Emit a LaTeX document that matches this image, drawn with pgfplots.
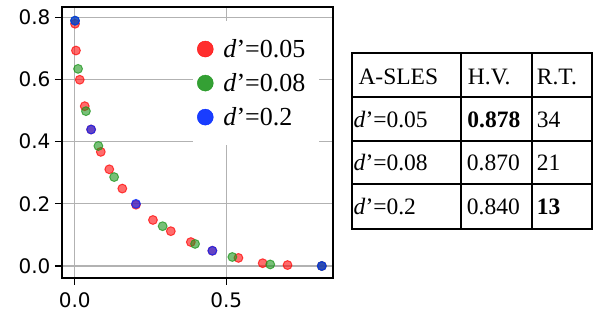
\documentclass[border=0pt]{standalone}
\usepackage{pgfplots}
\pgfplotsset{compat=1.18}
\usepackage{fontspec}
\setmainfont{Liberation Serif}
\newfontfamily\dejavu{DejaVu Sans}
\definecolor{cred}{RGB}{255,10,10}
\definecolor{cgreen}{RGB}{30,150,30}
\definecolor{cblue}{RGB}{0,40,255}
\pgfplotstableread{
x y
0.001 0.779
0.004 0.693
0.0165 0.599
0.033 0.514
0.054 0.439
0.086 0.367
0.114 0.311
0.157 0.249
0.202 0.197
0.258 0.148
0.317 0.112
0.383 0.077
0.454 0.049
0.540 0.026
0.620 0.009
0.702 0.003
0.815 0.000
}\tabA
\pgfplotstableread{
x y
0.001 0.789
0.011 0.634
0.037 0.498
0.078 0.386
0.130 0.286
0.290 0.128
0.397 0.071
0.520 0.029
0.645 0.005
0.815 0.000
}\tabB
\pgfplotstableread{
x y
0.001 0.789
0.054 0.439
0.202 0.200
0.454 0.049
0.815 0.000
}\tabC
\begin{document}
\begin{tikzpicture}[x=1pt,y=1pt]
\path[use as bounding box] (0,0) rectangle (593,320);
\begin{axis}[
  at={(62pt,42pt)}, anchor=south west,
  scale only axis, width=271pt, height=271pt,
  xmin=-0.042, xmax=0.852, ymin=-0.0386, ymax=0.833,
  xtick={0,0.5}, ytick={0,0.2,0.4,0.6,0.8},
  xticklabels={0.0,0.5}, yticklabels={0.0,0.2,0.4,0.6,0.8},
  tick pos=left, tick align=outside, major tick length=7pt,
  every tick/.style={black, line width=1.3pt},
  grid=major, major grid style={color=black!30, line width=1.3pt},
  axis line style={line width=1.6pt},
  tick label style={font=\dejavu\fontsize{20}{24}\selectfont},
  xticklabel style={yshift=-4pt},
  yticklabel style={xshift=-1pt},
  legend style={at={(0.483,0.948)}, anchor=north west, draw=none, fill=white,
    font=\fontsize{26}{31}\selectfont, row sep=10.5pt, inner xsep=4pt, inner ysep=16pt,
    nodes={inner xsep=10pt}},
  legend cell align=left,
  every axis plot/.append style={only marks, mark=*, mark size=4.4pt,
    mark options={fill opacity=0.6, draw opacity=0.75, line width=1pt}},
]
\addplot[cred, legend image code/.code={\fill[cred, fill opacity=0.85] (12pt,0) circle (8pt);}] table[x=x,y=y] {\tabA};
\addlegendentry{\textit{d}’=0.05}
\addplot[cgreen, legend image code/.code={\fill[cgreen, fill opacity=0.9] (12pt,0) circle (8pt);}] table[x=x,y=y] {\tabB};
\addlegendentry{\textit{d}’=0.08}
\addplot[cblue, legend image code/.code={\fill[cblue, fill opacity=0.9] (12pt,0) circle (8pt);}] table[x=x,y=y] {\tabC};
\addlegendentry{\textit{d}’=0.2}
\end{axis}
% table
\begin{scope}[line width=1.8pt]
\draw (351.7,266.7) rectangle (592,91);
\draw (351.7,222.7) -- (592,222.7);
\draw (351.7,179) -- (592,179);
\draw (351.7,135.7) -- (592,135.7);
\draw (461,266.7) -- (461,91);
\draw (531.7,266.7) -- (531.7,91);
\end{scope}
\begin{scope}[every node/.style={anchor=base west, inner sep=0pt, font=\fontsize{23.5}{28}\selectfont}]
\node at (358.3,235) {A-SLES};
\node at (467.7,235) {H.V.};
\node at (536.7,235) {R.T.};
\node at (353.5,192.7) {\textit{d}’=0.05};
\node at (467.2,192.7) {\textbf{0.878}};
\node at (536.7,192.7) {34};
\node at (353.5,149.3) {\textit{d}’=0.08};
\node at (466.7,149.3) {0.870};
\node at (536.7,149.3) {21};
\node at (353.5,105.7) {\textit{d}’=0.2};
\node at (466.7,105.7) {0.840};
\node at (536.7,105.7) {\textbf{13}};
\end{scope}
\end{tikzpicture}
\end{document}
